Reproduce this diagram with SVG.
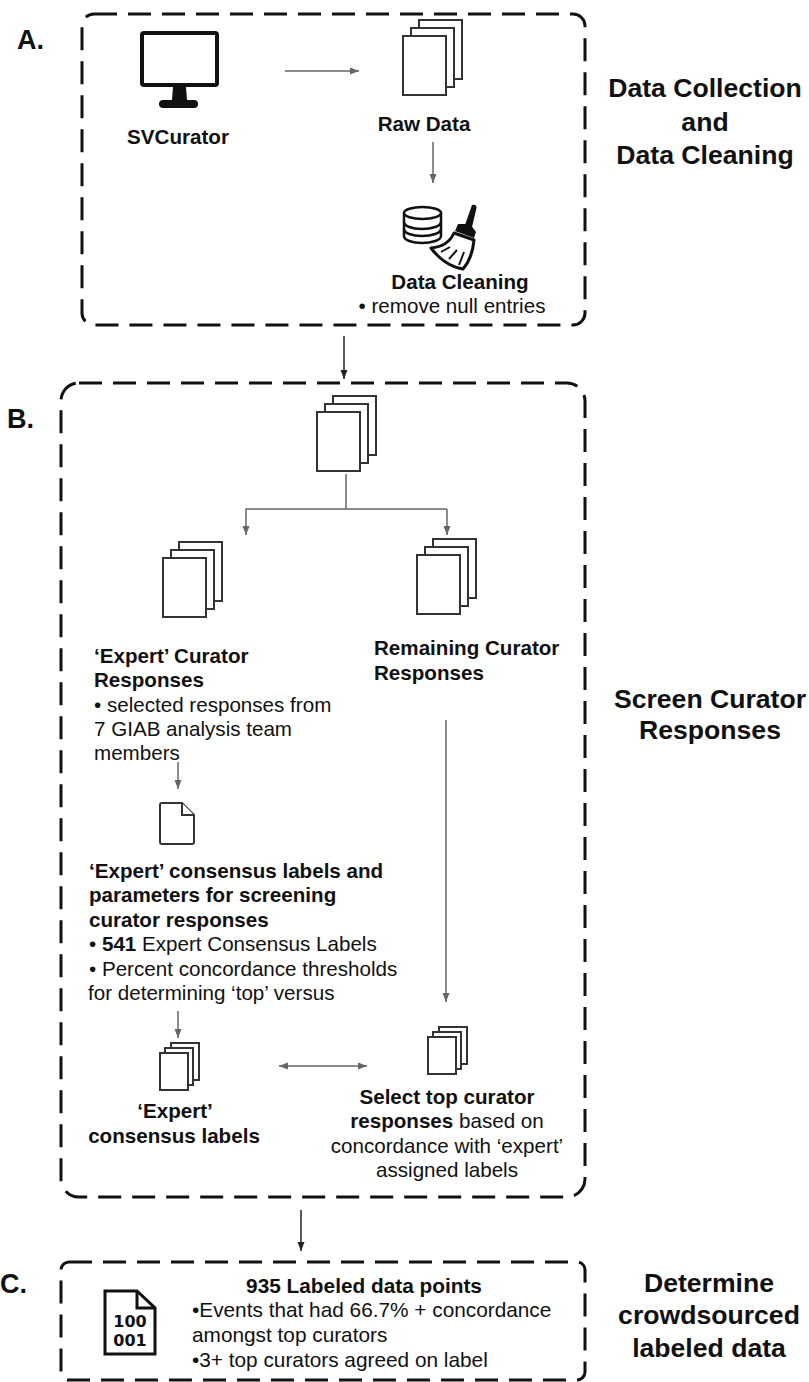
<svg xmlns="http://www.w3.org/2000/svg" width="809" height="1382" viewBox="0 0 809 1382">
<style>
text{font-family:"Liberation Sans",Arial,sans-serif;font-size:20.6px;fill:#111}
.b{font-weight:700}
.m{text-anchor:middle}
.t{font-weight:700;font-size:26.6px;text-anchor:middle}
.l{font-weight:700;font-size:27px}
.s{font-size:20.8px}
.box{fill:none;stroke:#111;stroke-width:3;stroke-dasharray:23 11}
.p{fill:#fff;stroke:#333;stroke-width:2}
.c{fill:none;stroke:#666;stroke-width:1.5}
.k{fill:none;stroke:#222;stroke-width:1.5}
.n{font-family:"DejaVu Sans",sans-serif;font-weight:700;font-size:16px;text-anchor:middle}
</style>
<defs>
<marker id="ag" markerUnits="userSpaceOnUse" markerWidth="10" markerHeight="8" refX="9" refY="4" orient="auto-start-reverse"><path d="M0 0.5L9 4L0 7.5Z" fill="#666"/></marker>
<marker id="ak" markerUnits="userSpaceOnUse" markerWidth="10" markerHeight="8" refX="9" refY="4" orient="auto-start-reverse"><path d="M0 0.5L9 4L0 7.5Z" fill="#222"/></marker>
<g id="stack"><rect class="p" x="16" y="-16" width="43" height="59"/><rect class="p" x="8" y="-8" width="43" height="59"/><rect class="p" x="0" y="0" width="43" height="59"/></g>
<g id="stackS"><rect class="p" x="11" y="-10" width="28" height="37"/><rect class="p" x="5" y="-5" width="28" height="37"/><rect class="p" x="0" y="0" width="28" height="37"/></g>
</defs>
<rect width="809" height="1382" fill="#fff"/>
<g id="connectors">
<path class="c" d="M285 71H359" marker-end="url(#ag)"/>
<path class="c" d="M433 142V183" marker-end="url(#ag)"/>
<path class="k" d="M344 336V379" marker-end="url(#ak)"/>
<path class="c" d="M346 474V509"/>
<path class="c" d="M447 509H246V535" marker-end="url(#ag)"/>
<path class="c" d="M447 509V535" marker-end="url(#ag)"/>
<path class="c" d="M446 720V1002" marker-end="url(#ag)"/>
<path class="c" d="M178 762V789" marker-end="url(#ag)"/>
<path class="c" d="M178 1011V1038" marker-end="url(#ag)"/>
<path class="c" d="M279 1066H367" marker-start="url(#ag)" marker-end="url(#ag)"/>
<path class="k" d="M301 1210V1251" marker-end="url(#ak)"/>
</g>
<g id="section-a">
<rect class="box" x="82" y="14" width="503" height="311" rx="12"/>
<text class="l" x="17" y="49">A.</text>
<text class="t" x="705" y="97">Data Collection</text>
<text class="t" x="705" y="131">and</text>
<text class="t" x="705" y="164">Data Cleaning</text>
</g>
<g id="node-svcurator">
<rect x="142" y="33" width="75" height="52" rx="2" fill="#fff" stroke="#111" stroke-width="4"/>
<path d="M173 87H186L187 100H172Z" fill="#111"/>
<rect x="159" y="100" width="39" height="8" rx="4" fill="#111"/>
<text class="b m" x="178" y="144">SVCurator</text>
</g>
<g id="node-raw-data">
<use href="#stack" x="403" y="36"/>
<text class="b m" x="424" y="131">Raw Data</text>
</g>
<g id="node-data-cleaning">
<g fill="#fff" stroke="#111" stroke-width="2.5">
<path d="M404 213V236C404 240 412 243 422 243S441 240 441 236V213"/>
<path d="M404 222C404 226 412 229 422 229S441 226 441 222" fill="none"/>
<path d="M404 229C404 233 412 236 422 236S441 233 441 229" fill="none"/>
<ellipse cx="422.500" cy="213" rx="18.500" ry="6"/>
</g>
<path d="M472 205C474 204 477 205 476.500 208L472 227L465 225Z" fill="#111"/>
<path d="M458 224L470 224L476 232L474 238L455 231Z" fill="#111"/>
<path d="M454 233L474 240C473 251 469 262 463 269C451 267 439 259 431 248C443 247 450 242 454 233Z" fill="#fff" stroke="#111" stroke-width="3" stroke-linejoin="round"/>
<path d="M441 252L450 247M449 259L457 250M459 265L464 252" fill="none" stroke="#111" stroke-width="2"/>
<text class="b m" x="460" y="289">Data Cleaning</text>
<text class="m" x="452" y="313">• remove null entries</text>
</g>
<g id="section-b">
<rect class="box" x="61" y="383" width="524" height="814" rx="18"/>
<text class="l" x="7" y="428">B.</text>
<text class="t" x="710" y="708">Screen Curator</text>
<text class="t" x="710" y="739">Responses</text>
</g>
<g id="node-responses"><use href="#stack" x="317" y="412"/></g>
<g id="node-expert-responses">
<use href="#stack" x="163" y="558"/>
<text class="b" x="94" y="663">‘Expert’ Curator</text>
<text class="b" x="94" y="687">Responses</text>
<text x="94" y="712">• selected responses from</text>
<text x="94" y="736">7 GIAB analysis team</text>
<text x="94" y="760">members</text>
</g>
<g id="node-remaining">
<use href="#stack" x="417" y="555"/>
<text class="b" x="374" y="655">Remaining Curator</text>
<text class="b" x="374" y="680">Responses</text>
</g>
<g id="node-parameters">
<path class="p" d="M160 805Q160 803 162 803H182L194 815V842Q194 844 192 844H162Q160 844 160 842Z"/>
<path class="p" d="M182 803V815H194" fill="none"/>
<text class="b" x="89" y="878">‘Expert’ consensus labels and</text>
<text class="b" x="89" y="902">parameters for screening</text>
<text class="b" x="89" y="927">curator responses</text>
<text x="89" y="951">• <tspan class="b">541</tspan> Expert Consensus Labels</text>
<text x="89" y="976">• Percent concordance thresholds</text>
<text x="88" y="1000">for determining ‘top’ versus</text>
</g>
<g id="node-expert-labels">
<use href="#stackS" x="160" y="1053"/>
<text class="b m" x="175" y="1118">‘Expert’</text>
<text class="b m" x="174" y="1143">consensus labels</text>
</g>
<g id="node-top-curators">
<use href="#stackS" x="428" y="1037"/>
<text class="b m" x="447" y="1104">Select top curator</text>
<text class="m" x="447" y="1128"><tspan class="b">responses</tspan> based on</text>
<text class="m" x="447" y="1153">concordance with ‘expert’</text>
<text class="m" x="447" y="1177">assigned labels</text>
</g>
<g id="section-c">
<rect class="box" x="61" y="1262" width="524" height="118" rx="8"/>
<text class="l" x="0" y="1293">C.</text>
<text class="t" x="709" y="1292">Determine</text>
<text class="t" x="709" y="1324">crowdsourced</text>
<text class="t" x="709" y="1357">labeled data</text>
</g>
<g id="node-labeled-data">
<path d="M105 1291H137L155 1308V1354H105Z" fill="#fff" stroke="#111" stroke-width="3"/>
<path d="M137 1291V1308H155" fill="none" stroke="#111" stroke-width="3"/>
<text class="n" x="130" y="1327">100</text>
<text class="n" x="130" y="1346">001</text>
<text class="b m s" x="364" y="1293">935 Labeled data points</text>
<text class="s" x="192" y="1317">•Events that had 66.7% + concordance</text>
<text class="s" x="192" y="1342">amongst top curators</text>
<text class="s" x="192" y="1367">•3+ top curators agreed on label</text>
</g>
</svg>
